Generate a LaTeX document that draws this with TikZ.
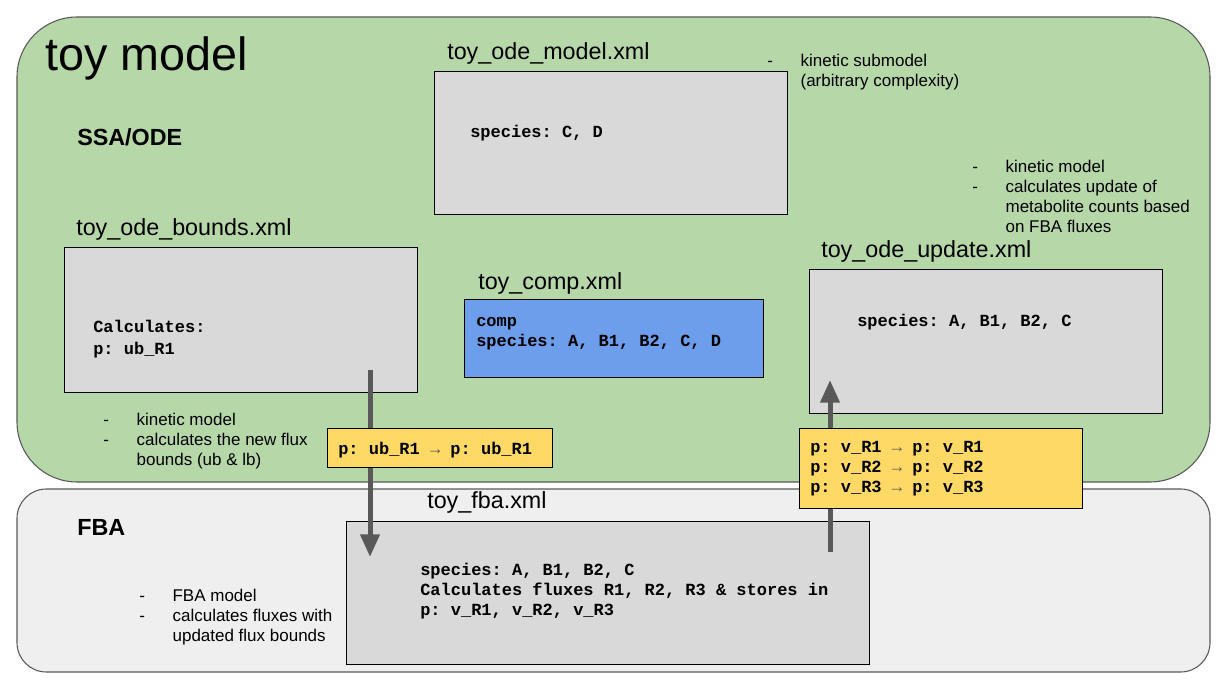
\documentclass[tikz,border=0pt]{standalone}
\usepackage{fontspec}
\setmainfont{Liberation Sans}
\setmonofont{Liberation Mono}
\usetikzlibrary{arrows.meta}

\definecolor{odegreen}{HTML}{B6D7A8}
\definecolor{fbagrey}{HTML}{EFEFEF}
\definecolor{boxgrey}{HTML}{D9D9D9}
\definecolor{compblue}{HTML}{6D9EEB}
\definecolor{portyellow}{HTML}{FFD966}
\definecolor{edgegrey}{HTML}{595959}

\newcommand\dashlist[1]{\begin{tabular}{@{}p{25pt}@{}l@{}}#1\end{tabular}}
\newcommand\portto{{\color{edgegrey}→}}

\tikzset{
	panel/.style={draw=edgegrey,line width=0.8pt},
	xmlbox/.style={draw=black,line width=0.75pt,fill=boxgrey},
	portbox/.style={draw=black,line width=0.75pt,fill=portyellow},
	filename/.style={font=\fontsize{17.5}{21}\selectfont,anchor=west,inner sep=0},
	heading/.style={font=\bfseries\fontsize{17.5}{21}\selectfont,anchor=west,inner sep=0},
	code/.style={font=\ttfamily\bfseries\fontsize{12.75}{15}\selectfont,align=left,anchor=west,inner sep=0},
	note/.style={font=\fontsize{12.75}{15}\selectfont,anchor=north west,inner sep=0},
	flow/.style={draw=edgegrey,line width=3.75pt,-{Triangle[width=14pt,length=17pt]}}
}

\begin{document}
\begin{tikzpicture}[x=0.75pt,y=-0.75pt]
		\useasboundingbox (0,0) rectangle (1222,688);

		\path[panel,fill=odegreen,rounded corners=45pt] (17,17) rectangle (1210,482);
		\path[panel,fill=fbagrey,rounded corners=22pt]  (17,489) rectangle (1210,672);

		\path[xmlbox]                (434,72)  rectangle (787,215);
		\path[xmlbox]                (64,248)  rectangle (417,392);
		\path[xmlbox,fill=compblue]  (464,300) rectangle (763,377);
		\path[xmlbox]                (809,270) rectangle (1162,413);
		\path[xmlbox]                (346,521) rectangle (869,664);

		\node [heading,font=\fontsize{35}{40}\selectfont] (toy)   at (45,58)  {toy model};
		\node [heading]                                   (ssa)   at (77,137) {SSA/ODE};
		\node [heading]                                   (fba)   at (77,527) {FBA};

		\node [filename] (modelfile)  at (447,53)  {toy\_ode\_model.xml};
		\node [filename] (boundsfile) at (76,229)  {toy\_ode\_bounds.xml};
		\node [filename] (compfile)   at (478,283) {toy\_comp.xml};
		\node [filename] (updatefile) at (821,251) {toy\_ode\_update.xml};
		\node [filename] (fbafile)    at (427,502) {toy\_fba.xml};

		\node [code] (modelcode)  at (470,133) {species: C, D};
		\node [code] (boundscode) at (93,339)  {Calculates:\\[2pt]p: ub\_R1};
		\node [code] (compcode)   at (476,334) {comp\\species: A, B1, B2, C, D};
		\node [code] (updatecode) at (857,322) {species: A, B1, B2, C};
		\node [code] (fbacode)    at (420,591) {species: A, B1, B2, C\\Calculates fluxes R1, R2, R3 \& stores in\\p: v\_R1, v\_R2, v\_R3};

		\node [note] (modelnote)  at (767,52)  {\dashlist{-&kinetic submodel\\&(arbitrary complexity)}};
		\node [note] (updatenote) at (972,158) {\dashlist{-&kinetic model\\-&calculates update of\\&metabolite counts based\\&on FBA fluxes}};
		\node [note] (boundsnote) at (103,411) {\dashlist{-&kinetic model\\-&calculates the new flux\\&bounds (ub \& lb)}};
		\node [note] (fbanote)    at (139,587) {\dashlist{-&FBA model\\-&calculates fluxes with\\&updated flux bounds}};

		\coordinate (ubout)  at (370,370);
		\coordinate (ubin)   at (370,557);
		\coordinate (vout)   at (830,552);
		\coordinate (vin)    at (830,380);
		\draw[flow] (ubout) -- (ubin);
		\draw[flow] (vout)  -- (vin);

		\path[portbox] (327,428) rectangle (552,467);
		\path[portbox] (799,428) rectangle (1082,508);
		\node [code] (ubport) at (338,450) {p: ub\_R1 \portto{} p: ub\_R1};
		\node [code] (vport)  at (810,469) {p: v\_R1 \portto{} p: v\_R1\\p: v\_R2 \portto{} p: v\_R2\\p: v\_R3 \portto{} p: v\_R3};
\end{tikzpicture}
\end{document}
